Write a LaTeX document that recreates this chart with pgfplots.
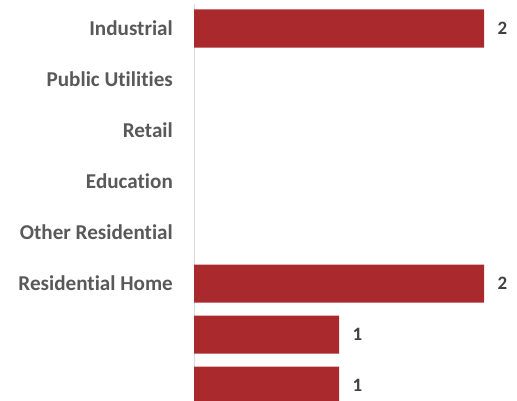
\documentclass[border=0pt]{standalone}
\usepackage{fontspec}
\setmainfont[Ligatures={NoCommon,NoContextual}]{Carlito}
\usepackage{pgfplots}
\pgfplotsset{compat=1.18}
\definecolor{barred}{HTML}{AA292C}
\definecolor{lblgray}{HTML}{595959}
\definecolor{valgray}{HTML}{404040}
\definecolor{axgray}{HTML}{D9D9D9}
\begin{document}
\begin{tikzpicture}
\useasboundingbox (0,0) rectangle (517bp,401bp);
\begin{axis}[
  at={(194bp,0bp)}, anchor=south west,
  scale only axis,
  width=290bp, height=397bp,
  xmin=0, xmax=2,
  ymin=-0.48, ymax=7.30,
  y dir=reverse,
  xbar, bar width=0.745,
  axis x line=none,
  axis y line*=left,
  y axis line style={-, draw=axgray, line width=1bp},
  major tick length=0pt,
  /pgf/number format/assume math mode=true,
  ytick={0,1,2,3,4,5,6,7},
  yticklabels={Industrial,Public Utilities,Retail,Education,Other Residential,Residential Home,{},{}},
  yticklabel style={font=\fontsize{21.2}{25}\selectfont\bfseries, text=lblgray, inner sep=0pt, xshift=-21bp},
  nodes near coords,
  every node near coord/.append style={font=\fontsize{19}{22}\selectfont\bfseries, text=valgray, anchor=west, xshift=10bp},
  point meta=x,
]
\addplot[draw=none, fill=barred] coordinates {
(2,0) (1,6) (1,7) (2,5)
};
\end{axis}
\end{tikzpicture}
\end{document}
